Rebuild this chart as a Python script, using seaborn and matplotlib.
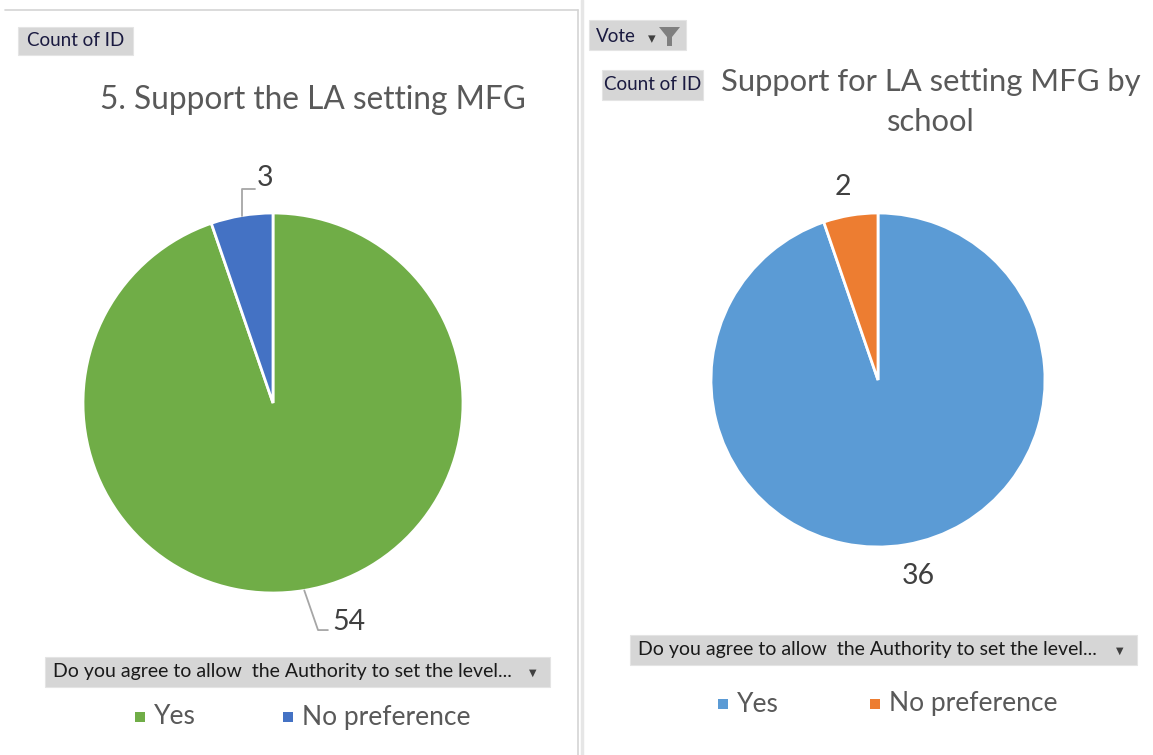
import numpy as np
import matplotlib
matplotlib.use("Agg")
import matplotlib.pyplot as plt
import seaborn as sns
from matplotlib.patches import FancyBboxPatch, Polygon
from matplotlib.lines import Line2D

# ---- data ----
categories = ["Yes", "No preference"]
left_values = [54, 3]
right_values = [36, 2]
left_title = "5. Support the LA setting MFG"
right_title_lines = ["Support for LA setting MFG by", "school"]
field_label = "Count of ID"
filter_label = "Vote"
axis_field = "Do you agree to allow  the Authority to set the level..."

left_colors = ["#70AD47", "#4472C4"]
right_colors = ["#5B9BD5", "#ED7D31"]

sns.set_theme(style="white")
plt.rcParams["font.family"] = ["Lato", "DejaVu Sans"]

W, H = 1153, 755
fig = plt.figure(figsize=(W / 100, H / 100), dpi=100)
fig.patch.set_facecolor("white")

def fx(x):
    return x / W

def fy(y):
    return 1 - y / H

def ftext(x, y, s, **kw):
    fig.text(fx(x), fy(y), s, zorder=10, **kw)

def button(x0, y0, x1, y1):
    p = FancyBboxPatch((fx(x0), fy(y1)), fx(x1) - fx(x0), fy(y0) - fy(y1),
                       boxstyle="square,pad=0", transform=fig.transFigure,
                       facecolor="#D6D6D6", edgecolor="#E4E4E4", lw=0.8, zorder=2)
    fig.add_artist(p)

# ---- panel borders ----
fig.add_artist(Line2D([fx(5), fx(578)], [fy(10), fy(10)], color="#D4D4D4", lw=1.2,
                      transform=fig.transFigure))
fig.add_artist(Line2D([fx(578), fx(578)], [fy(10), fy(755)], color="#D4D4D4", lw=1.2,
                      transform=fig.transFigure))
fig.add_artist(Line2D([fx(582), fx(582)], [fy(0), fy(755)], color="#E6E6E6", lw=2.5,
                      transform=fig.transFigure))

# ---- pies ----
def pie(cx, cy, r, values, colors):
    ax = fig.add_axes([fx(cx - r), fy(cy + r), 2 * r / W, 2 * r / H])
    ax.pie(values, colors=colors, startangle=90, counterclock=False,
           wedgeprops=dict(edgecolor="white", linewidth=2))
    ax.set_xlim(-1, 1)
    ax.set_ylim(-1, 1)
    ax.set_aspect("equal")
    ax.axis("off")
    return ax

axL = pie(273, 403, 190, left_values, left_colors)
axR = pie(878, 380, 167, right_values, right_colors)

lab_color = "#404040"
lab_size = 20.5
lead = "#A6A6A6"

def mid_angles(values):
    tot = sum(values)
    angs = []
    start = 90.0
    for v in values:
        span = v / tot * 360
        angs.append(np.deg2rad(start - span / 2))
        start -= span
    return angs

angL = mid_angles(left_values)
# "3"
a = angL[1]
p0 = (np.cos(a), np.sin(a))
axL.plot([p0[0], p0[0], -0.095], [p0[1], 1.126, 1.126], color=lead, lw=1.3, clip_on=False)
axL.text(-0.085, 1.185, str(left_values[1]), color=lab_color, fontsize=lab_size,
         ha="left", va="center")
# "54"
a = angL[0]
p0 = (np.cos(a), np.sin(a))
axL.plot([p0[0], 0.237, 0.289], [p0[1], -1.195, -1.195], color=lead, lw=1.3, clip_on=False)
axL.text(0.31, -1.155, str(left_values[0]), color=lab_color, fontsize=lab_size,
         ha="left", va="center")

# right labels
axR.text(-0.21, 1.156, str(right_values[1]), color=lab_color, fontsize=lab_size,
         ha="center", va="center")
axR.text(0.24, -1.174, str(right_values[0]), color=lab_color, fontsize=lab_size,
         ha="center", va="center")

# ---- titles ----
title_color = "#595959"
ftext(313, 100, left_title, fontsize=22.8, color=title_color, ha="center", va="center")
ftext(931, 82, right_title_lines[0], fontsize=22.3, color=title_color, ha="center", va="center")
ftext(931, 122, right_title_lines[1], fontsize=22.3, color=title_color, ha="center", va="center")

# ---- pivot buttons ----
btn_color = "#1A1A40"
button(18, 27, 133, 55)
ftext(76, 41, field_label, fontsize=13.5, color=btn_color, ha="center", va="center")

button(589, 20, 686, 50)
ftext(596, 36, filter_label, fontsize=13.5, color=btn_color, ha="left", va="center")
ftext(652, 39, "▾", fontsize=11, color="#404040", ha="center", va="center",
      family="DejaVu Sans")
fig.add_artist(Polygon([(fx(659), fy(27)), (fx(680), fy(27)), (fx(672), fy(37)),
                        (fx(672), fy(46)), (fx(667), fy(46)), (fx(667), fy(37))],
                       closed=True, transform=fig.transFigure, facecolor="#7F7F7F",
                       edgecolor="none", zorder=5))

button(602, 70, 703, 100)
ftext(653, 85, field_label, fontsize=13.5, color=btn_color, ha="center", va="center")

button(45, 657, 550, 687)
ftext(53, 672, axis_field, fontsize=14, color="#1A1A1A", ha="left", va="center")
ftext(533, 673, "▼", fontsize=7, color="#404040", ha="center", va="center",
      family="DejaVu Sans")

button(630, 635, 1137, 665)
ftext(638, 650, axis_field, fontsize=14, color="#1A1A1A", ha="left", va="center")
ftext(1120, 651, "▼", fontsize=7, color="#404040", ha="center", va="center",
      family="DejaVu Sans")

# ---- legends ----
def legend(items, y):
    for (x, label, color) in items:
        fig.add_artist(FancyBboxPatch((fx(x), fy(y + 5)), 10 / W, 10 / H,
                                      boxstyle="square,pad=0", transform=fig.transFigure,
                                      facecolor=color, edgecolor="none"))
        ftext(x + 19, y, label, fontsize=19, color=title_color, ha="left", va="center")

legend([(135, categories[0], left_colors[0]), (283, categories[1], left_colors[1])], 717)
legend([(718, categories[0], right_colors[0]), (870, categories[1], right_colors[1])], 704)

fig.savefig("out.png", dpi=100, facecolor="white")
